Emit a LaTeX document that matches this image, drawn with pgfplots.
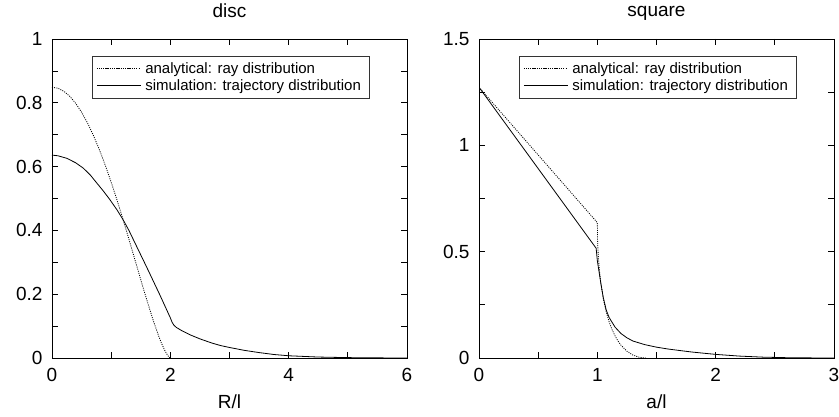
\documentclass[border=0pt]{standalone}
\usepackage{fontspec}
\setmainfont{Liberation Sans}
\usepackage{pgfplots}
\pgfplotsset{compat=1.18}

\newcommand\fbig{\fontsize{19}{23}\selectfont}
\newcommand\fleg{\fontsize{15}{17}\selectfont}

\pgfplotsset{
  gp/.style={
    scale only axis, width=355pt, height=319pt,
    axis line style={line width=0.8pt},
    tick align=inside, tick pos=both,
    major tick length=6pt, minor tick length=6pt,
    every tick/.style={line width=0.7pt, black},
    ticklabel style={font=\fbig},
    xticklabel style={yshift=-7pt},
    yticklabel style={xshift=-6pt},
    /pgf/number format/assume math mode=true,
    title style={font=\fbig, at={(axis description cs:0.5,1)}, anchor=base, yshift=16pt},
    xlabel style={font=\fbig, at={(axis description cs:0.5,0)}, anchor=base, yshift=-50pt},
    legend style={at={(axis description cs:0.113,0.946)}, anchor=north west,
      draw=black!80, line width=0.7pt, font=\fleg, inner xsep=4pt, inner ysep=3.5pt,
      nodes={inner xsep=4pt, inner ysep=2.4pt}, row sep=0pt},
    legend cell align=left,
    legend image code/.code={\path (-4pt,0pt) -- (40pt,0pt);
      \draw[##1] (0pt,0pt) -- (34pt,0pt);},
  },
  ana/.style={black, line width=0.8pt, dash pattern=on 1pt off 1.2pt},
  sim/.style={black, line width=0.8pt},
}

\begin{document}
\begin{tikzpicture}
\useasboundingbox (0,0) rectangle (839pt,416pt);

\begin{axis}[gp, at={(52pt,58pt)}, anchor=south west,
    title={disc}, xlabel={R/l},
    xmin=0, xmax=6, ymin=0, ymax=1,
    xtick={0,2,4,6}, minor xtick={1,3,5},
    ytick={0,0.2,0.4,0.6,0.8,1}, minor ytick={0.1,0.3,0.5,0.7,0.9}]
\addplot[ana] coordinates {
 (0,0.8488)(0.1,0.8457)(0.2,0.8361)(0.3,0.8204)(0.4,0.7984)(0.5,0.7705)
 (0.6,0.7369)(0.7,0.6977)(0.8,0.6535)(0.9,0.6045)(1.0,0.5513)(1.1,0.4945)
 (1.2,0.4346)(1.3,0.3725)(1.4,0.3092)(1.5,0.2456)(1.6,0.1833)(1.7,0.1241)
 (1.8,0.0703)(1.85,0.0466)(1.9,0.0258)(1.95,0.0093)(1.98,0.0024)(2.0,0)
};
\addlegendentry{analytical: ray distribution}
\addplot[sim] coordinates {
 (0,0.636)(0.1,0.634)(0.25,0.626)(0.4,0.612)(0.53,0.595)(0.65,0.573)
 (0.755,0.549)(0.87,0.523)(0.98,0.496)(1.1,0.464)(1.2,0.434)(1.3,0.400)
 (1.43,0.350)(1.6,0.285)(1.825,0.197)(2.0,0.126)(2.03,0.112)(2.06,0.103)
 (2.1,0.096)(2.2,0.085)(2.33,0.073)(2.5,0.060)(2.7,0.047)(2.85,0.039)
 (3.0,0.033)(3.25,0.024)(3.5,0.017)(3.75,0.011)(4.0,0.007)(4.5,0.003)
 (5.0,0.0012)(5.5,0.0004)(6.0,0)
};
\addlegendentry{simulation: trajectory distribution}
\end{axis}

\begin{axis}[gp, at={(479pt,58pt)}, anchor=south west,
    title={square}, xlabel={a/l},
    xmin=0, xmax=3, ymin=0, ymax=1.5,
    xtick={0,1,2,3}, minor xtick={0.5,1.5,2.5},
    ytick={0,0.5,1,1.5}, minor ytick={0.25,0.75,1.25}]
\addplot[ana] coordinates {
 (0,1.2732)(1.0,0.6366)(1.002,0.5575)(1.005,0.5130)(1.01,0.4641)(1.02,0.3985)
 (1.03,0.3507)(1.05,0.2802)(1.075,0.2171)(1.1,0.1699)(1.125,0.1329)
 (1.15,0.1034)(1.175,0.0795)(1.2,0.0601)(1.25,0.0318)(1.3,0.0140)
 (1.35,0.0041)(1.4,0.0002)(1.4142,0)
};
\addlegendentry{analytical: ray distribution}
\addplot[sim] coordinates {
 (0,1.2732)(0.99,0.516)(1.0,0.458)(1.01,0.422)(1.02,0.386)(1.03,0.350)
 (1.05,0.285)(1.075,0.226)(1.1,0.190)(1.15,0.145)(1.2,0.115)(1.25,0.095)
 (1.3,0.080)(1.4,0.063)(1.5,0.051)(1.6,0.042)(1.8,0.028)(2.0,0.017)
 (2.2,0.009)(2.4,0.004)(2.6,0.0015)(2.8,0.0005)(3.0,0)
};
\addlegendentry{simulation: trajectory distribution}
\end{axis}
\end{tikzpicture}
\end{document}
